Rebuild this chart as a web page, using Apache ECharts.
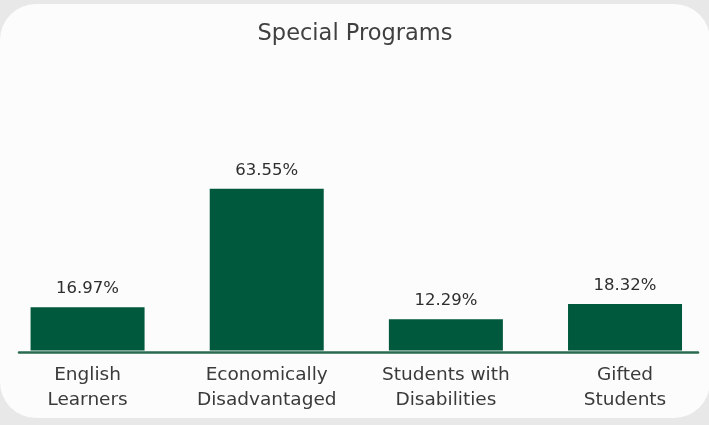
<!DOCTYPE html>
<html>
<head>
<meta charset="utf-8">
<script src="https://cdn.jsdelivr.net/npm/echarts@6/dist/echarts.min.js"></script>
<style>
  html, body { margin: 0; padding: 0; background: #e8e8e8; width: 709px; height: 425px; overflow: hidden; }
  #card { position: absolute; left: 0; top: 4px; width: 710px; height: 414px; background: #fcfcfc; border-radius: 36px; }
  #chart { position: absolute; left: -20px; top: 0; width: 750px; height: 425px; }
</style>
</head>
<body>
<div id="card"></div>
<div id="chart"></div>
<script>
const titleText = 'Special Programs';
const categories = ['English\nLearners', 'Economically\nDisadvantaged', 'Students with\nDisabilities', 'Gifted\nStudents'];
const values = [16.97, 63.55, 12.29, 18.32];

const chart = echarts.init(document.getElementById('chart'), null, { renderer: 'canvas' });
chart.setOption({
  backgroundColor: 'transparent',
  animation: false,
  title: {
    text: titleText,
    left: 'center',
    top: 14,
    textStyle: { fontFamily: 'DejaVu Sans', fontSize: 22.5, fontWeight: 'normal', color: '#404040', lineHeight: 30 }
  },
  grid: [
    { left: 18, right: 15.4, top: 96, bottom: 74.5, containLabel: false },
    { left: 39, right: 32, top: 300, bottom: 73, containLabel: false }
  ],
  xAxis: [
    {
      type: 'category', gridIndex: 0, data: categories,
      axisLine: { show: false }, axisTick: { show: false },
      axisLabel: {
        interval: 0, margin: 12, color: '#3a3a3a',
        fontFamily: 'DejaVu Sans', fontSize: 18.5, lineHeight: 25
      }
    },
    {
      type: 'value', gridIndex: 1, min: 0, max: 1,
      axisLine: { show: true, lineStyle: { color: '#2a6b50', width: 2.5 } },
      axisTick: { show: false }, axisLabel: { show: false }, splitLine: { show: false }
    }
  ],
  yAxis: [
    { type: 'value', gridIndex: 0, min: 0, max: 100, show: false },
    { type: 'value', gridIndex: 1, min: 0, max: 1, show: false }
  ],
  series: [
    {
      type: 'bar', xAxisIndex: 0, yAxisIndex: 0, data: values, barWidth: 114,
      itemStyle: { color: '#00593c' },
      label: {
        show: true, position: 'top', distance: 10,
        formatter: p => p.value.toFixed(2) + '%',
        fontFamily: 'DejaVu Sans', fontSize: 16.5, color: '#2e2e2e'
      }
    }
  ]
});
</script>
</body>
</html>
